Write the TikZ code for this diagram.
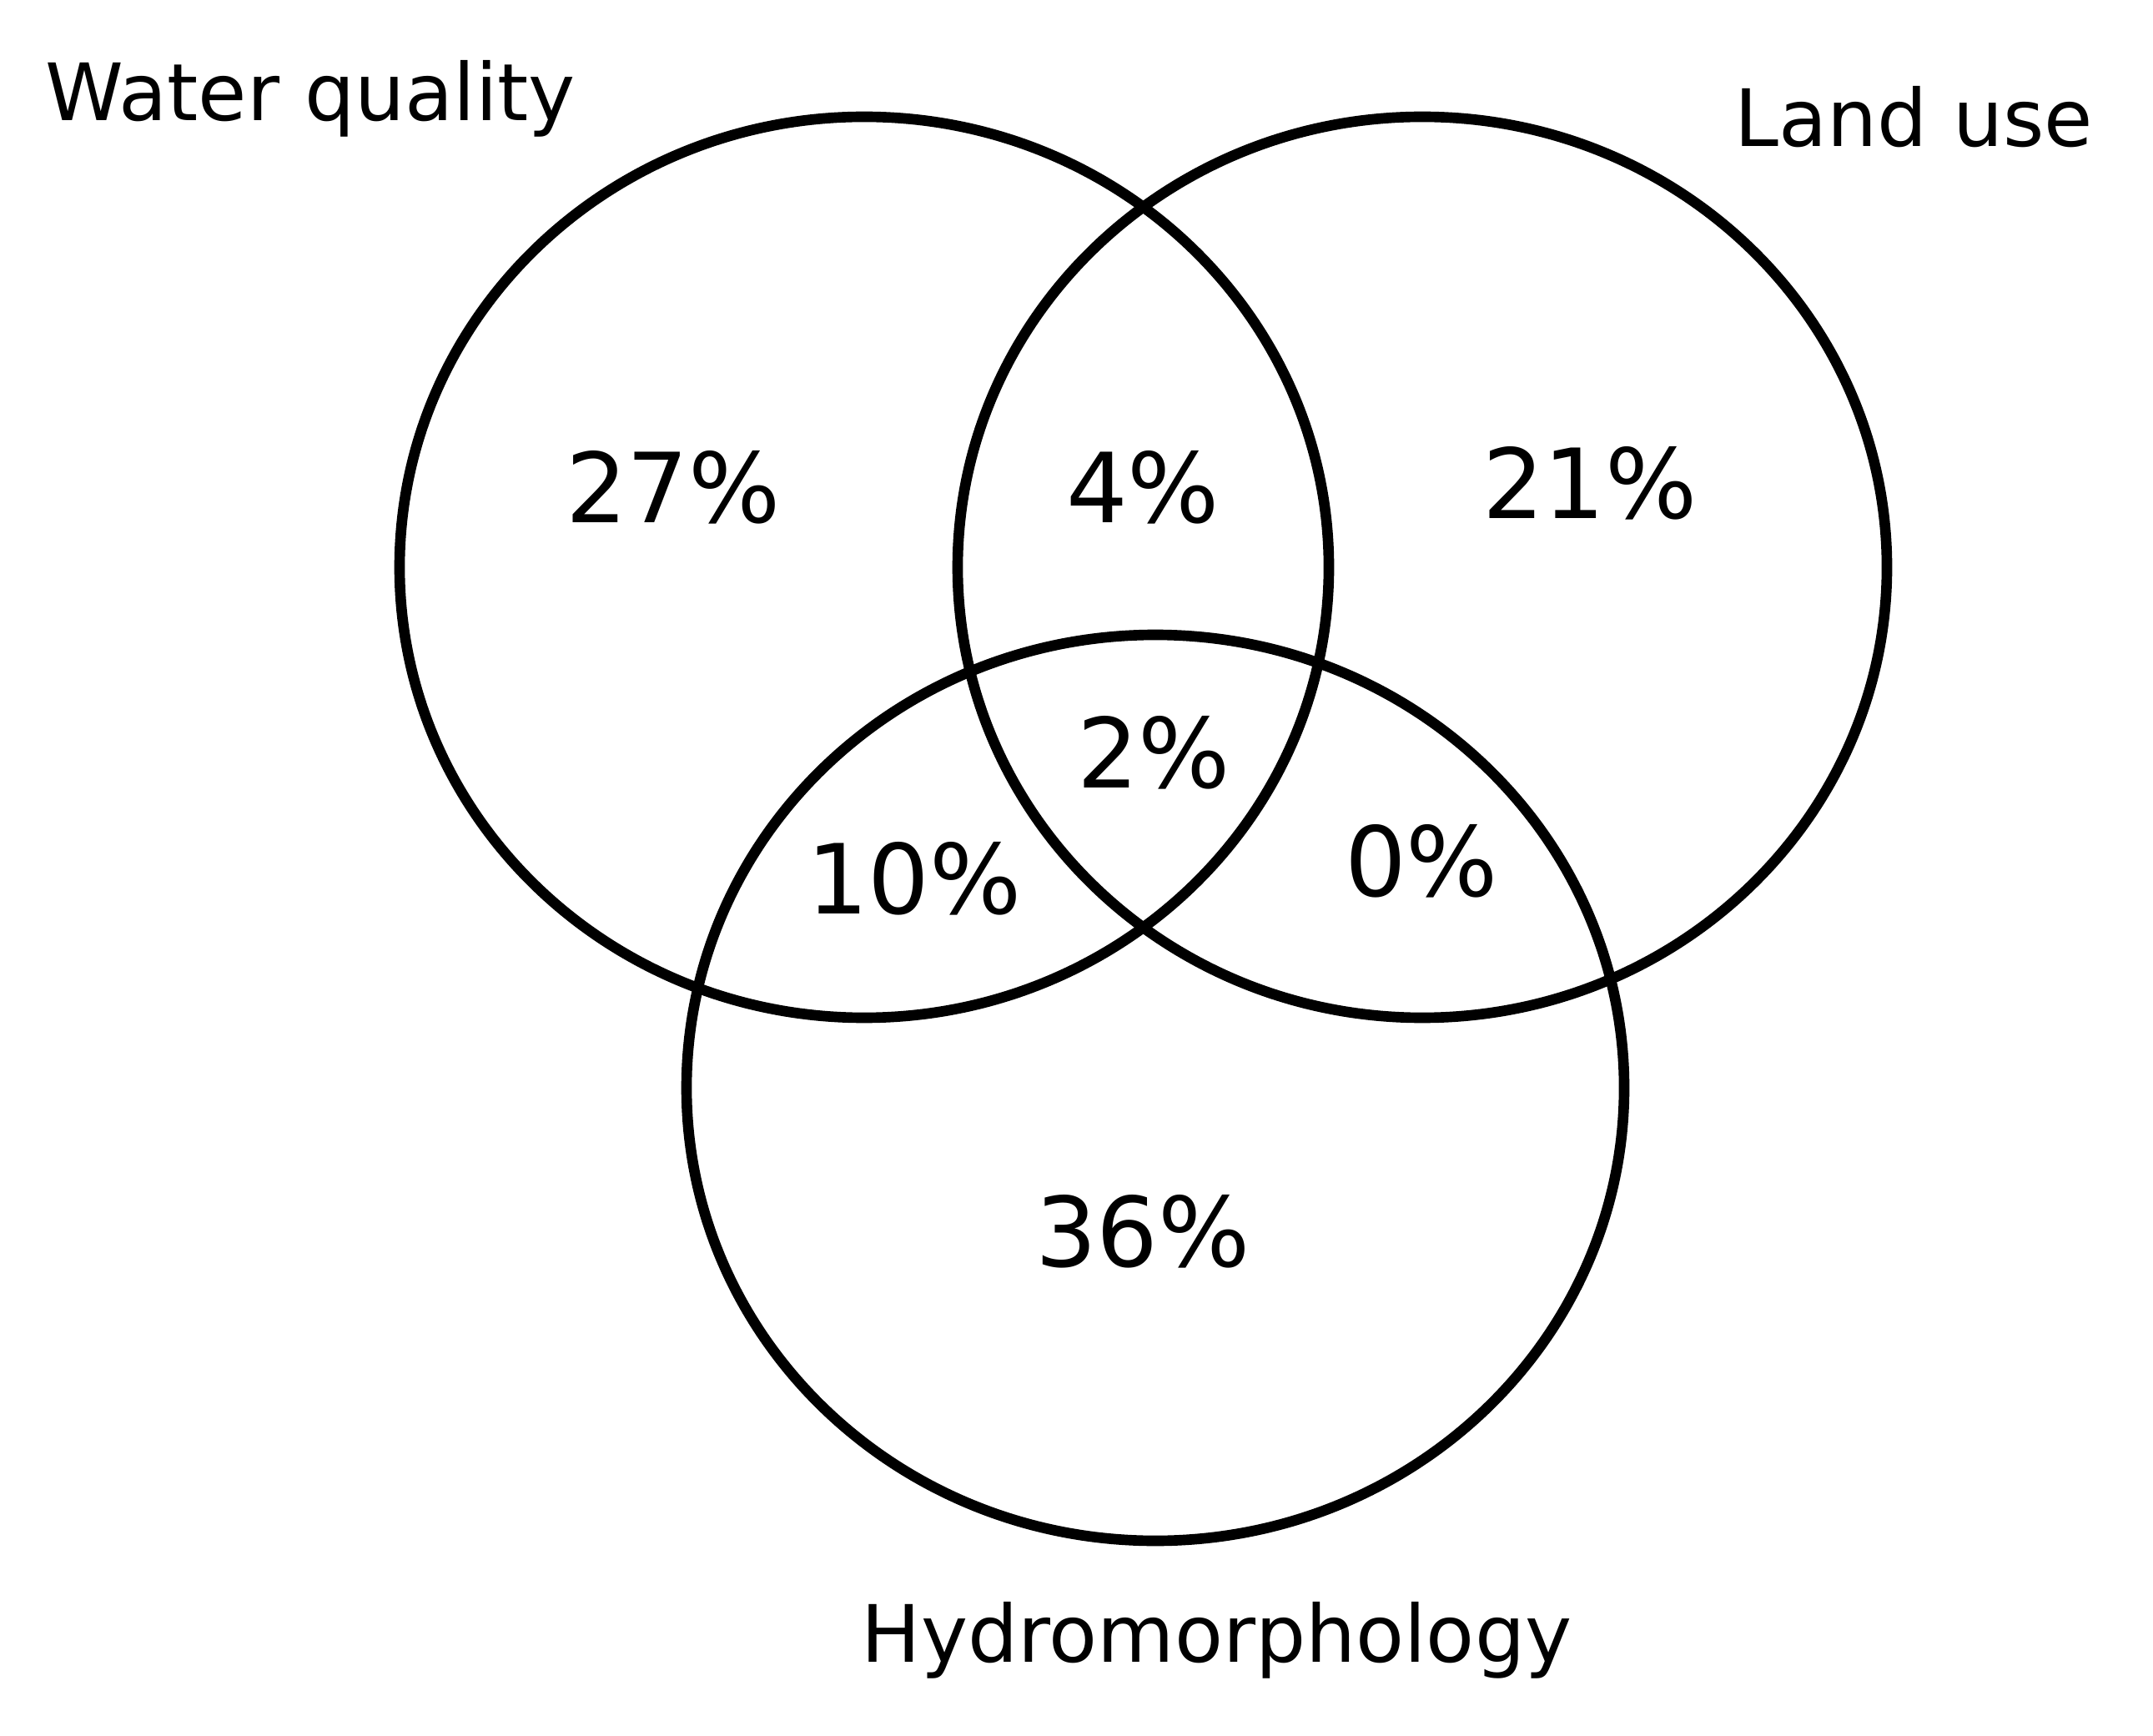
\documentclass[tikz,border=0pt]{standalone}
\usepackage{fontspec}
\setmainfont{DejaVu Sans}
\usetikzlibrary{positioning}

\begin{document}
\begin{tikzpicture}
\tikzstyle{ring}=[draw=black,line width=3.6pt];
\tikzstyle{pct}=[anchor=center,text=black,font=\fontsize{33}{38}\selectfont];
\tikzstyle{ttl}=[anchor=base west,text=black,font=\fontsize{27}{32}\selectfont,inner sep=0pt];

\useasboundingbox (0,0) rectangle (25.81,20.80);

\begin{scope}
        \coordinate (wq) at (10.36,14.00);
        \coordinate (lu) at (17.05,14.00);
        \coordinate (hm) at (13.85,7.76);

        \draw[ring] (wq) ellipse (5.57 and 5.40);
        \draw[ring] (lu) ellipse (5.57 and 5.40);
        \draw[ring] (hm) ellipse (5.62 and 5.43);

        \node[pct] (p1) at (8.07,14.96) {27\%};
        \node[pct] (p2) at (13.70,14.96) {4\%};
        \node[pct] (p3) at (19.06,15.01) {21\%};
        \node[pct] (p4) at (13.83,11.78) {2\%};
        \node[pct] (p5) at (10.96,10.27) {10\%};
        \node[pct] (p6) at (17.04,10.48) {0\%};
        \node[pct] (p7) at (13.70,6.04) {36\%};

        \node[ttl] (twq) at (0.54,19.35) {Water quality};
        \node[ttl] (tlu) at (20.79,19.04) {Land use};
        \node[ttl] (thm) at (10.32,0.88) {Hydromorphology};
\end{scope}

\end{tikzpicture}
\end{document}
